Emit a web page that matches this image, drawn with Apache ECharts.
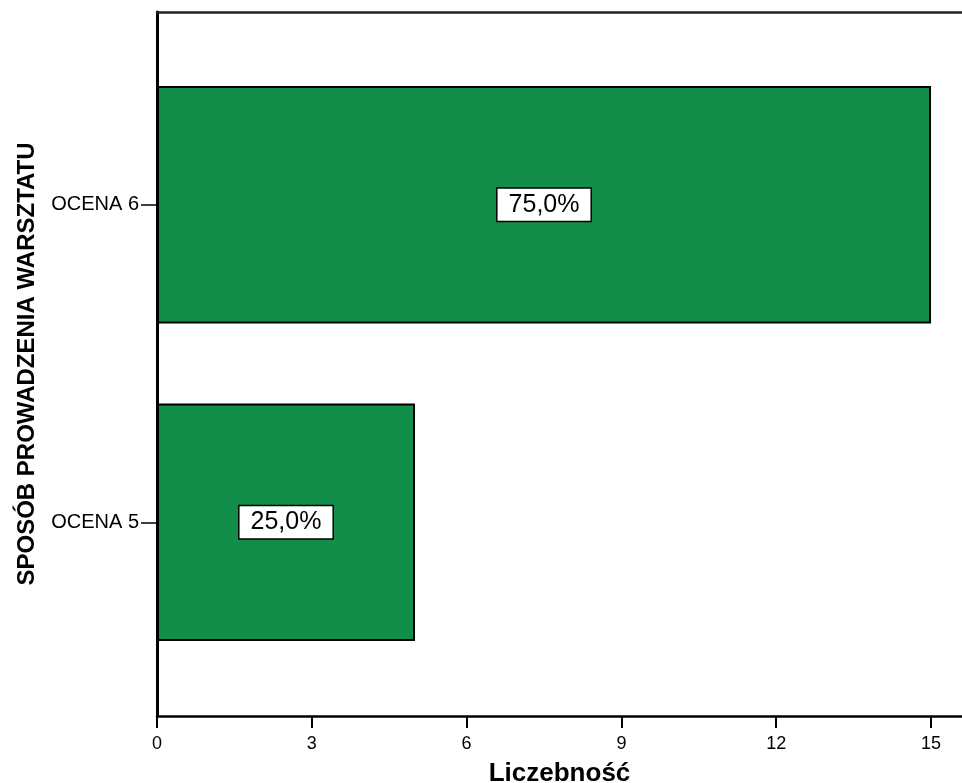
<!DOCTYPE html>
<html>
<head>
<meta charset="utf-8">
<script src="https://cdn.jsdelivr.net/npm/echarts@6/dist/echarts.min.js"></script>
<style>
html,body{margin:0;padding:0;background:#fff;}
#chart{width:962px;height:783px;}
</style>
</head>
<body>
<div id="chart"></div>
<script>
const categories = ['OCENA 5', 'OCENA 6'];
const counts = [5, 15];
const xTicks = [0, 3, 6, 9, 12, 15];
const xTitle = 'Liczebność';
const yTitle = 'SPOSÓB PROWADZENIA WARSZTATU';

const total = counts.reduce((a, b) => a + b, 0);
const FONT = '"Liberation Sans", Arial, Helvetica, sans-serif';
const chart = echarts.init(document.getElementById('chart'), null, {renderer: 'canvas'});

chart.setOption({
  backgroundColor: '#ffffff',
  animation: false,
  grid: [
    {left: 157, right: 0, top: 46, bottom: 102, outerBoundsMode: 'none', containLabel: false},
    {left: 157, right: 0, top: 12, bottom: 67, outerBoundsMode: 'none', containLabel: false}
  ],
  xAxis: [
    {
      gridIndex: 0, type: 'value', min: 0, max: 15.6,
      axisLine: {show: false}, axisTick: {show: false},
      axisLabel: {show: false}, splitLine: {show: false}
    },
    {
      gridIndex: 1, type: 'value', min: 0, max: 15.6, position: 'bottom',
      axisLine: {show: true, lineStyle: {color: '#000', width: 2.5}},
      axisTick: {show: true, length: 12, inside: false, customValues: xTicks, lineStyle: {color: '#000', width: 2}},
      axisLabel: {show: true, customValues: xTicks, margin: 19, fontSize: 18, color: '#000', fontFamily: FONT},
      splitLine: {show: false},
      name: xTitle, nameLocation: 'middle', nameGap: 45,
      nameTextStyle: {fontSize: 26, fontWeight: 'bold', color: '#000', fontFamily: FONT}
    },
    {
      gridIndex: 1, type: 'value', min: 0, max: 15.6, position: 'top',
      axisLine: {show: true, lineStyle: {color: '#222', width: 2.5}},
      axisTick: {show: false}, axisLabel: {show: false}, splitLine: {show: false}
    }
  ],
  yAxis: [
    {
      gridIndex: 0, type: 'category', data: categories,
      axisLine: {show: false},
      axisTick: {show: true, length: 16, alignWithLabel: true, lineStyle: {color: '#000', width: 1.5}},
      axisLabel: {margin: 18, fontSize: 20, color: '#000', fontFamily: FONT},
      splitLine: {show: false}
    },
    {
      gridIndex: 1, type: 'value', min: 0, max: 1,
      axisLine: {show: true, lineStyle: {color: '#000', width: 3}},
      axisTick: {show: false}, axisLabel: {show: false}, splitLine: {show: false},
      name: yTitle, nameLocation: 'middle', nameGap: 118, nameRotate: 90,
      nameTextStyle: {fontSize: 24, fontWeight: 'bold', color: '#000', fontFamily: FONT}
    }
  ],
  series: [{
    type: 'bar',
    xAxisIndex: 0, yAxisIndex: 0,
    data: counts,
    barCategoryGap: '25.2%',
    itemStyle: {color: '#128e4a', borderColor: '#000', borderWidth: 2},
    label: {
      show: true, position: 'inside',
      formatter: p => (p.value / total * 100).toFixed(1).replace('.', ',') + '%',
      fontSize: 25, color: '#000', fontFamily: FONT,
      backgroundColor: '#fff', borderColor: '#000', borderWidth: 1.5,
      padding: [4, 11, 3, 11]
    }
  }]
});
</script>
</body>
</html>
